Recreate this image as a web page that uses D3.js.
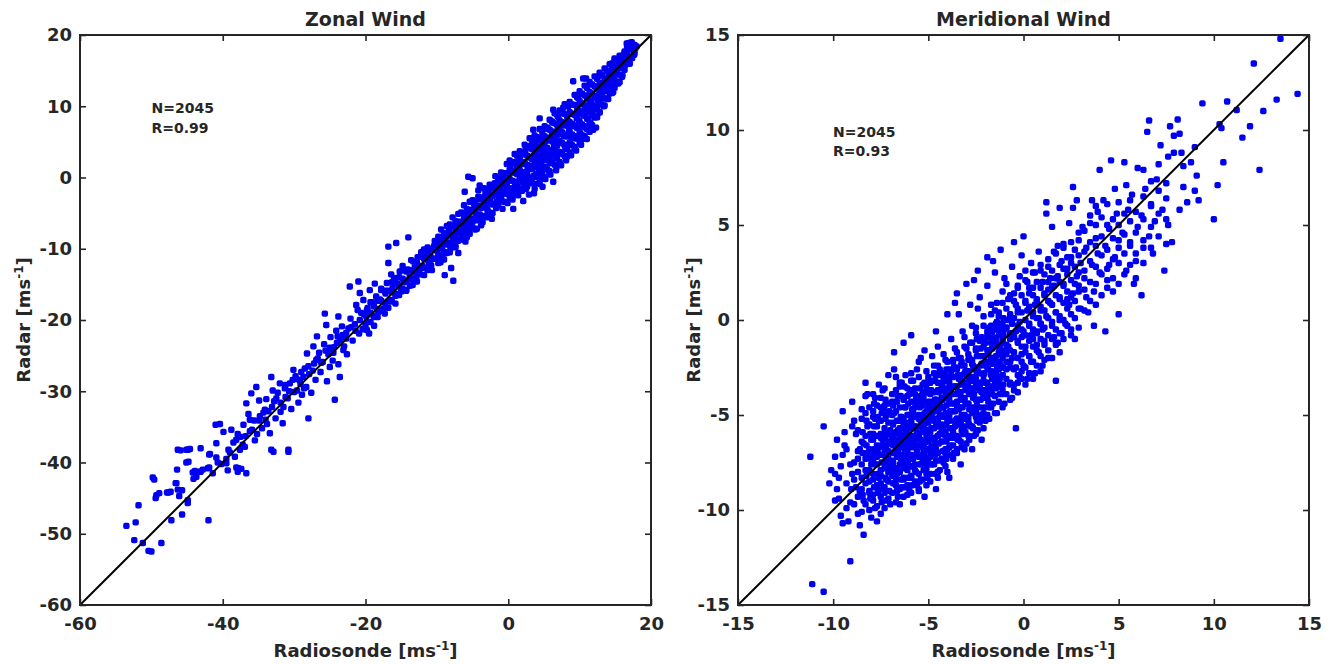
<!DOCTYPE html>
<html><head><meta charset="utf-8">
<script src="https://cdn.jsdelivr.net/npm/d3@7"></script>
<style>
body{margin:0;background:#fff}
text{font-family:"DejaVu Sans",sans-serif;font-weight:bold;fill:#262626}
</style>
</head><body>
<svg id="c" width="1335" height="664"></svg>
<script>
// Zonal wind: [radiosonde, radar] pairs (m/s)
const zonalPoints = [
[-53.5,-48.9],[-52.2,-48.4],[-52.4,-50.9],[-51.2,-51.3],[-50.4,-52.4],[-50.0,-52.5],[-51.8,-46.0],[-49.8,-42.1],[-49.6,-42.4],[-48.6,-51.3],
[-49.4,-45.0],[-48.9,-44.3],[-47.6,-44.2],[-47.3,-44.1],[-47.2,-48.1],[-46.6,-42.9],[-46.1,-44.7],[-45.7,-43.9],[-45.7,-47.3],[-46.4,-41.0],
[-45.1,-40.0],[-44.9,-45.3],[-44.9,-45.7],[-44.2,-41.4],[-44.1,-42.3],[-43.7,-42.0],[-43.2,-41.3],[-42.8,-41.0],[-42.0,-48.1],[-41.9,-40.7],
[-41.9,-38.9],[-41.4,-41.5],[-40.9,-39.3],[-40.7,-40.0],[-40.2,-40.2],[-39.5,-39.5],[-39.3,-41.1],[-38.1,-40.7],[-37.9,-41.3],[-37.4,-40.9],
[-36.7,-41.5],[-32.9,-38.5],[-30.8,-38.5],[-45.9,-38.3],[-44.9,-38.2],[-49.3,-44.6],[-47.8,-44.2],[-46.5,-42.9],[-46.3,-43.8],[-46.3,-38.2],
[-45.1,-38.2],[-44.6,-38.1],[-44.8,-39.9],[-43.9,-41.2],[-43.1,-41.3],[-43.1,-38.0],[-42.1,-40.8],[-41.8,-38.8],[-40.9,-37.3],[-41.0,-34.7],
[-40.4,-34.6],[-39.9,-35.7],[-39.5,-40.1],[-39.2,-38.2],[-38.8,-35.4],[-38.1,-36.8],[-37.6,-38.2],[-37.1,-34.7],[-37.8,-40.8],[-36.2,-34.0],
[-35.9,-35.4],[-36.7,-31.7],[-36.0,-30.3],[-35.3,-29.4],[-34.9,-31.3],[-34.1,-32.6],[-33.9,-31.1],[-33.2,-38.2],[-33.2,-28.0],[-33.0,-29.9],
[-32.0,-28.9],[-31.5,-32.2],[-31.2,-30.8],[-30.8,-38.2],[-30.1,-27.0],[-29.6,-29.9],[-29.1,-29.0],[-28.7,-28.0],[-28.0,-33.8],[-28.2,-24.7],
[-27.3,-23.7],[-26.7,-25.4],[-26.8,-22.3],[-25.7,-19.1],[-25.5,-20.7],[-25.0,-26.6],[-24.3,-31.2],[-23.6,-28.0],[-23.8,-19.5],[-22.7,-21.8],
[-22.2,-15.3],[-21.0,-14.6],[-20.8,-16.2],[-21.1,-18.6],[-20.4,-21.3],[-19.4,-15.8],[-18.7,-14.9],[-19.9,-19.5],[-24.0,-23.2],[-23.1,-24.2],
[-38.5,-37.2],[-37.9,-36.0],[-37.2,-37.5],[-36.8,-36.3],[-36.4,-33.2],[-35.6,-34.1],[-35.2,-36.0],[-34.8,-33.5],[-34.5,-35.2],[-34.0,-34.0],
[-33.6,-32.8],[-33.4,-35.9],[-32.8,-31.4],[-32.6,-33.8],[-32.3,-30.2],[-31.9,-31.6],[-31.6,-34.5],[-31.3,-29.6],[-30.9,-31.0],[-30.6,-28.9],
[-30.4,-32.5],[-30.0,-30.1],[-29.8,-27.9],[-29.4,-31.6],[-29.2,-28.5],[-28.9,-30.5],[-28.5,-26.8],[-28.3,-29.4],[-27.9,-27.6],[-27.6,-30.2],
[-27.2,-26.1],[-27.0,-28.4],[-26.5,-24.6],[-26.3,-27.3],[-26.0,-25.9],[-25.8,-23.4],[-25.4,-28.6],[-25.2,-24.8],[-24.9,-22.4],[-24.6,-25.7],
[-24.4,-23.8],[-24.1,-21.5],[-23.8,-26.2],[-23.5,-22.9],[-23.3,-20.9],[-23.0,-23.7],[-22.6,-24.8],[-22.4,-21.2],[-22.1,-19.8],[-21.8,-22.9],
[-21.5,-20.6],[-21.3,-17.9],[-20.9,-21.9],[-20.6,-19.0],[-20.3,-17.2],[-20.0,-20.8],[-19.7,-18.3],[-19.5,-21.9],[-19.1,-17.5],[-18.9,-19.4],
[-18.5,-16.7],[-18.2,-18.9],[-18.0,-17.1],[-17.8,-15.6],[-17.5,-18.4],[-17.2,-16.3],[-17.0,-14.8],[-16.8,-9.7],[-16.8,-12.0],[-16.4,-13.6],
[-16.5,-17.2],[-16.2,-15.5],[-16.0,-14.1],[-15.7,-9.2],[-15.8,-16.6],[-15.5,-14.9],[-15.2,-13.2],[-15.0,-16.0],[-14.8,-12.4],[-14.6,-14.7],
[-14.3,-15.8],[-14.0,-8.4],[-14.1,-12.9],[-13.8,-13.9],[-13.6,-11.6],[-13.4,-15.1],[-13.1,-12.6],[-12.9,-14.0],[-12.7,-11.2],[-12.5,-13.1],
[-12.2,-10.5],[-12.0,-12.4],[-11.8,-13.7],[-11.6,-11.0],[-11.3,-9.8],[-11.1,-12.1],[-10.9,-11.0],[-10.7,-13.0],[-10.4,-9.6],[-10.2,-11.4],
[-10.0,-10.3],[-9.7,-8.7],[-9.5,-11.9],[-9.3,-9.9],[-9.0,-8.3],[-8.9,-13.7],[-8.8,-10.6],[-8.5,-9.1],[-8.3,-7.4],[-8.0,-12.7],
[-7.7,-14.5],[-8.1,-10.0],[-7.8,-8.4],[-7.6,-6.9],[-7.4,-9.6],[-7.2,-7.8],[-7.0,-10.6],[-6.8,-6.5],[-6.6,-8.6],[-6.4,-7.3],
[-6.2,-5.8],[-6.1,-2.0],[-6.0,-9.0],[-5.8,-6.7],[-5.6,0.1],[-5.6,-5.2],[-5.4,-7.9],[-5.2,-4.6],[-5.0,-0.1],[-5.0,-6.2],
[-4.8,-3.7],[-4.6,-5.6],[-4.4,-7.2],[-4.2,-4.1],[-4.0,-1.1],[-4.0,-5.2],[-3.8,-3.0],[-3.6,-6.3],[-3.4,-3.8],[-3.2,-2.1],
[-3.1,-5.4],[-2.9,-4.6],[-2.7,-1.6],[-2.5,-3.3],[-2.3,-5.8],[-2.1,-2.5],[-1.9,-0.8],[-1.7,-4.3],[-1.6,-3.4],[-1.4,-1.6],
[-1.2,-0.2],[-1.0,-2.8],[-0.8,-4.4],[-0.6,-1.1],[-0.4,0.6],[-0.3,-2.3],[-0.1,-3.6],[0.1,-0.4],[0.3,1.4],[0.4,-1.8],
[0.6,-3.1],[0.7,-4.4],[0.8,0.7],[1.0,2.2],[1.1,-0.9],[1.3,-2.4],[1.4,-2.5],[1.5,1.4],[1.7,3.0],[1.8,0.2],
[2.0,-1.5],[2.1,-3.3],[2.3,2.1],[2.4,3.8],[2.6,0.9],[2.7,-0.6],[2.9,-2.4],[3.0,2.9],[3.2,4.5],[3.3,1.6],
[3.5,6.7],[3.5,0.2],[3.7,-1.6],[3.8,3.7],[4.0,5.2],[4.1,2.3],[4.3,0.9],[4.4,8.3],[4.4,-0.9],[4.6,4.4],
[4.7,0.35],[4.8,6.0],[4.9,2.9],[5.1,1.4],[5.2,-0.2],[5.3,5.1],[5.5,7.0],[5.6,3.6],[5.8,2.0],[5.9,0.4],
[6.1,5.9],[6.2,7.7],[6.3,9.5],[6.3,-0.6],[6.4,4.3],[6.6,2.7],[6.7,1.0],[6.9,6.6],[7.0,8.5],[7.1,5.0],
[7.3,3.4],[7.4,1.7],[7.6,7.3],[7.7,9.8],[7.8,5.8],[8.0,4.0],[8.1,2.4],[8.3,8.1],[8.4,10.0],[8.5,6.5],
[8.7,4.8],[8.8,3.1],[9.0,8.9],[9.1,13.5],[9.2,7.2],[9.4,5.5],[9.5,3.8],[9.7,9.6],[9.8,11.2],[9.9,8.0],
[10.1,6.2],[10.2,4.6],[10.4,10.4],[10.5,13.9],[10.6,8.7],[10.8,7.0],[10.9,13.9],[11.0,5.4],[11.1,11.1],[11.3,9.4],
[11.4,6.4],[11.5,7.7],[11.7,11.8],[11.9,6.7],[11.9,10.1],[12.1,8.4],[12.3,7.0],[12.4,12.5],[12.6,10.8],[12.8,14.3],
[12.8,9.1],[13.0,11.6],[13.2,13.2],[13.4,10.0],[13.6,12.3],[13.8,14.0],[14.0,11.0],[14.2,12.6],[14.4,13.9],[14.5,16.0],
[14.7,12.0],[14.9,16.7],[15.0,14.5],[15.2,15.3],[15.4,13.2],[15.6,15.6],[15.8,16.8],[16.0,14.4],[16.2,17.3],[16.4,15.8],
[16.6,18.8],[16.8,17.0],[17.0,16.0],[17.3,19.0],[17.4,18.0],[17.6,17.2],[17.8,18.1],[17.2,18.6],
[-9.9,-9.1],[-9.2,-10.8],[-8.6,-8.0],[-7.9,-9.2],[-7.1,-6.2],[-6.5,-7.9],[-5.9,-5.3],[-5.3,-6.8],[-4.7,-4.5],[-4.1,-6.0],
[-3.5,-2.8],[-2.9,-3.2],[-2.4,-1.4],[-1.8,-2.0],[-1.3,-3.2],[-0.7,-0.3],[-0.2,-1.3],[0.2,0.7],[0.5,-2.6],[0.9,-1.3],
[1.2,1.3],[1.6,-0.6],[2.2,0.0],[2.5,-1.6],[2.8,1.7],[3.1,-0.8],[3.4,2.6],[3.6,-2.2],[3.9,0.5],[4.2,3.1],
[4.5,1.7],[4.8,-1.3],[5.0,4.2],[5.4,2.5],[5.7,0.9],[6.0,3.2],[6.5,5.2],[6.8,3.6],[7.2,1.9],[7.5,6.1],
[7.9,4.6],[8.2,3.0],[8.6,7.2],[8.9,5.6],[9.3,4.1],[9.6,8.3],[10.0,7.0],[10.3,5.4],[10.7,9.6],[11.2,8.2],
[11.6,10.7],[12.0,9.5],[12.5,11.5],[12.9,12.4],[13.3,11.2],[13.7,13.2],[14.1,14.8],[14.6,14.4],[15.1,15.6],[15.5,16.4],
[16.1,16.3],[16.7,17.9],
[-39.0,-38.6],[-38.3,-39.2],[-37.5,-36.4],[-36.9,-37.8],[-36.2,-35.6],[-35.5,-36.9],[-34.9,-34.1],[-34.3,-33.0],[-33.8,-34.6],[-33.1,-32.2],
[-32.5,-31.0],[-31.9,-32.9],[-31.2,-29.1],[-30.7,-30.0],[-30.2,-28.4],[-29.6,-28.3],[-29.0,-27.3],[-28.6,-29.6],[-28.0,-26.5],[-27.4,-27.1],
[-26.9,-25.6],[-26.2,-26.0],[-25.6,-24.3],[-25.0,-23.9],[-24.5,-24.6],[-23.9,-22.3],[-23.2,-22.1],[-22.7,-22.6],[-22.0,-21.0],[-21.4,-21.5],
[-20.8,-20.0],[-20.2,-19.2],
[-19.8,-18.6],[-19.8,-20.2],[-19.8,-21.4],[-19.3,-19.0],[-19.3,-20.3],[-19.3,-17.5],[-18.8,-19.6],[-18.8,-18.1],[-18.8,-20.8],
[-18.3,-17.3],[-18.3,-18.5],[-18.3,-19.6],[-17.8,-17.3],[-17.8,-18.7],[-17.8,-15.8],[-17.3,-17.6],[-17.3,-15.9],[-17.3,-19.1],
[-16.8,-15.9],[-16.8,-17.4],[-16.8,-18.3],[-16.3,-16.1],[-16.3,-14.7],[-16.3,-17.4],[-15.8,-16.3],[-15.8,-14.8],[-15.8,-17.7],
[-15.3,-14.0],[-15.3,-15.3],[-15.3,-16.5],[-14.8,-14.2],[-14.8,-15.6],[-14.8,-12.9],[-14.3,-14.5],[-14.3,-13.2],[-14.3,-15.9],
[-13.8,-13.0],[-13.8,-14.3],[-13.8,-15.2],[-13.3,-13.2],[-13.3,-11.8],[-13.3,-14.3],[-12.8,-13.4],[-12.8,-11.9],[-12.8,-14.6],
[-12.3,-11.1],[-12.3,-12.4],[-12.3,-13.6],[-11.8,-11.4],[-11.8,-12.7],[-11.8,-10.1],[-11.3,-11.6],[-11.3,-10.3],[-11.3,-13.0],
[-10.8,-10.1],[-10.8,-11.4],[-10.8,-12.3],[-10.3,-10.1],[-10.3,-8.9],[-10.3,-11.4],
[-9.8,-8.3],[-9.8,-9.6],[-9.8,-10.9],[-9.8,-12.0],[-9.4,-8.6],[-9.4,-9.9],[-9.4,-11.1],[-9.4,-7.3],
[-9.0,-7.8],[-9.0,-9.1],[-9.0,-10.4],[-9.0,-11.5],[-8.6,-8.2],[-8.6,-9.4],[-8.6,-10.6],[-8.6,-6.8],
[-8.2,-6.6],[-8.2,-7.9],[-8.2,-9.2],[-8.2,-10.5],[-7.8,-6.9],[-7.8,-8.2],[-7.8,-9.4],[-7.8,-5.6],
[-7.4,-6.1],[-7.4,-7.3],[-7.4,-8.6],[-7.4,-9.8],[-7.0,-6.5],[-7.0,-7.7],[-7.0,-8.9],[-7.0,-5.1],
[-6.6,-4.9],[-6.6,-6.2],[-6.6,-7.5],[-6.6,-8.7],[-6.2,-5.2],[-6.2,-6.5],[-6.2,-7.7],[-6.2,-3.9],
[-5.8,-4.4],[-5.8,-5.8],[-5.8,-7.1],[-5.8,-8.4],[-5.4,-4.8],[-5.4,-6.0],[-5.4,-7.2],[-5.4,-3.4],
[-5.0,-3.2],[-5.0,-4.5],[-5.0,-5.8],[-5.0,-7.0],[-4.6,-3.5],[-4.6,-4.8],[-4.6,-6.0],[-4.6,-7.3],
[-4.2,-2.7],[-4.2,-4.0],[-4.2,-5.3],[-4.2,-1.8],[-3.8,-3.1],[-3.8,-4.3],[-3.8,-5.5],[-3.8,-6.7],
[-3.4,-1.5],[-3.4,-2.8],[-3.4,-4.1],[-3.4,-5.4],[-3.0,-1.8],[-3.0,-3.1],[-3.0,-4.3],[-3.0,-5.6],
[-2.6,-1.0],[-2.6,-2.3],[-2.6,-3.6],[-2.6,-4.9],[-2.2,-1.3],[-2.2,-2.6],[-2.2,-3.8],[-2.2,-5.0],
[-1.8,0.2],[-1.8,-1.1],[-1.8,-2.4],[-1.8,-3.7],[-1.4,-0.1],[-1.4,-1.4],[-1.4,-2.6],[-1.4,-3.9],
[-1.0,0.7],[-1.0,-0.6],[-1.0,-1.9],[-1.0,-3.2],[-0.6,0.4],[-0.6,-0.9],[-0.6,-2.1],[-0.6,-3.4],
[-0.2,1.9],[-0.2,0.6],[-0.2,-0.7],[-0.2,-2.0],
[0.2,2.4],[0.2,1.1],[0.2,-0.2],[0.2,-1.5],[0.2,-2.8],[0.55,2.15],[0.55,0.85],[0.55,-0.45],[0.55,-1.75],[0.55,-2.85],
[0.9,3.3],[0.9,2.0],[0.9,0.7],[0.9,-0.6],[0.9,-1.9],[1.25,3.05],[1.25,1.75],[1.25,0.45],[1.25,-0.85],[1.25,-2.25],
[1.6,3.7],[1.6,2.4],[1.6,1.1],[1.6,-0.3],[1.6,-1.6],[1.95,3.45],[1.95,2.15],[1.95,0.75],[1.95,-0.55],[1.95,-1.85],
[2.3,4.6],[2.3,3.3],[2.3,1.9],[2.3,0.6],[2.3,-0.8],[2.65,4.35],[2.65,3.05],[2.65,1.75],[2.65,0.35],[2.65,-1.25],
[3.0,5.5],[3.0,4.2],[3.0,2.8],[3.0,1.4],[3.0,-0.3],[3.35,5.25],[3.35,3.95],[3.35,2.55],[3.35,1.15],[3.35,-0.75],
[3.7,5.9],[3.7,4.6],[3.7,3.2],[3.7,1.8],[3.7,0.1],[3.7,-0.9],[4.05,5.65],[4.05,4.35],[4.05,2.95],[4.05,1.45],[4.05,0.05],
[4.4,6.8],[4.4,5.4],[4.4,4.0],[4.4,2.5],[4.4,1.0],[4.4,-0.4],[4.75,6.55],[4.75,5.25],[4.75,3.75],[4.75,2.35],[4.75,0.85],
[5.1,7.2],[5.1,5.8],[5.1,4.4],[5.1,3.0],[5.1,1.5],[5.1,0.1],[5.45,6.85],[5.45,5.55],[5.45,4.15],[5.45,2.65],[5.45,1.15],
[5.8,8.1],[5.8,6.7],[5.8,5.3],[5.8,3.8],[5.8,2.4],[5.8,0.9],[6.15,7.85],[6.15,6.45],[6.15,5.05],[6.15,3.55],[6.15,2.05],
[6.5,9.0],[6.5,7.6],[6.5,6.2],[6.5,4.7],[6.5,3.3],[6.5,1.8],[6.85,8.75],[6.85,7.35],[6.85,5.95],[6.85,4.45],[6.85,2.95],[6.85,1.65],
[7.2,9.4],[7.2,8.0],[7.2,6.6],[7.2,5.1],[7.2,3.6],[7.2,2.2],[7.55,9.05],[7.55,7.75],[7.55,6.35],[7.55,4.85],[7.55,3.35],
[7.9,10.3],[7.9,8.9],[7.9,7.5],[7.9,6.0],[7.9,4.5],[7.9,3.0],[8.25,10.05],[8.25,8.65],[8.25,7.25],[8.25,5.75],[8.25,4.25],[8.25,2.95],
[8.6,10.6],[8.6,9.2],[8.6,7.8],[8.6,6.4],[8.6,4.9],[8.6,3.5],[8.95,10.25],[8.95,8.95],[8.95,7.55],[8.95,6.05],[8.95,4.55],
[9.3,11.6],[9.3,10.2],[9.3,8.8],[9.3,7.3],[9.3,5.8],[9.3,4.3],[9.65,11.25],[9.65,9.85],[9.65,8.45],[9.65,6.95],[9.65,5.45],
[10.0,12.1],[10.0,10.7],[10.0,9.3],[10.0,7.8],[10.0,6.3],[10.0,4.9],[10.35,11.75],[10.35,10.35],[10.35,8.95],[10.35,7.45],[10.35,5.95],
[10.7,12.9],[10.7,11.5],[10.7,10.1],[10.7,8.7],[10.7,7.2],[10.7,5.8],[11.05,12.55],[11.05,11.15],[11.05,9.75],[11.05,8.25],[11.05,6.75],
[11.4,13.4],[11.4,12.0],[11.4,10.6],[11.4,9.1],[11.4,7.6],[11.75,13.05],[11.75,11.65],[11.75,10.25],[11.75,8.75],[11.75,7.35],
[12.1,14.2],[12.1,12.8],[12.1,11.4],[12.1,10.0],[12.1,8.6],[12.45,13.85],[12.45,12.45],[12.45,11.05],[12.45,9.65],[12.45,8.45],
[12.8,14.7],[12.8,13.3],[12.8,11.9],[12.8,10.5],[12.8,9.2],[13.15,14.35],[13.15,12.95],[13.15,11.55],[13.15,10.25],
[13.5,15.3],[13.5,13.9],[13.5,12.5],[13.5,11.1],[13.5,10.1],[13.85,14.95],[13.85,13.55],[13.85,12.15],[13.85,11.05],
[14.2,15.9],[14.2,14.5],[14.2,13.1],[14.2,11.8],[14.55,15.55],[14.55,14.15],[14.55,12.85],[14.55,11.85],
[14.9,16.5],[14.9,15.1],[14.9,13.7],[14.9,12.6],[15.25,16.15],[15.25,14.75],[15.25,13.45],
[15.6,17.1],[15.6,15.7],[15.6,14.4],[15.6,13.4],[15.95,16.75],[15.95,15.35],[15.95,14.15],
[16.3,17.7],[16.3,16.3],[16.3,15.1],[16.65,17.35],[16.65,15.95],[16.65,18.45],[17.0,18.3],[17.0,16.9],[17.0,16.0],
[17.35,17.95],[17.35,16.75],[17.7,18.6],[17.7,17.4],[18.0,18.4],[16.9,18.9]
];

// Meridional wind: [radiosonde, radar] pairs (m/s)
const meridionalPoints = [
[-11.2,-7.2],[-11.1,-13.9],[-10.5,-14.3],[-10.5,-5.6],[-10.2,-8.6],[-10.1,-7.9],
[-9.9,-7.2],[-9.8,-6.3],[-9.7,-9.4],[-9.6,-10.3],[-9.5,-10.7],[-9.5,-4.8],[-9.4,-5.9],[-9.3,-8.6],[-9.2,-10.6],[-9.1,-12.7],
[-9.0,-4.3],[-9.0,-8.1],[-9.6,-7.7],[-9.3,-6.8],[-9.8,-8.9],[-9.1,-9.6],[-9.05,-8.9],[-9.9,-8.1],
[-8.9,-7.5],[-8.8,-6.0],[-8.7,-10.2],[-8.6,-10.8],[-8.5,-8.3],[-8.4,-11.3],[-8.3,-3.3],[-8.3,-4.0],[-8.2,-7.0],[-8.1,-9.1],
[-8.0,-10.4],[-8.9,-5.3],[-8.8,-8.8],[-8.6,-6.8],[-8.5,-4.7],[-8.4,-9.5],[-8.3,-7.9],[-8.2,-5.6],[-8.1,-8.5],[-8.0,-6.3],
[-8.7,-7.3],[-8.6,-9.0],[-8.2,-3.9],[-8.4,-6.5],[-8.0,-7.6],[-8.9,-9.7],[-8.1,-4.6],
[-7.9,-8.1],[-7.9,-6.0],[-7.8,-9.9],[-7.8,-4.1],[-7.7,-7.2],[-7.7,-8.8],[-7.6,-5.3],[-7.6,-6.7],[-7.5,-10.2],[-7.5,-7.9],
[-7.4,-3.7],[-7.4,-6.3],[-7.3,-9.1],[-7.3,-7.5],[-7.2,-5.0],[-7.2,-8.4],[-7.1,-6.9],[-7.1,-2.9],[-7.0,-9.7],[-7.0,-7.7],
[-7.0,-5.8],[-7.9,-7.1],[-7.8,-5.2],[-7.6,-8.3],[-7.5,-6.0],[-7.4,-8.9],[-7.3,-4.5],[-7.2,-6.6],[-7.1,-8.0],[-7.9,-9.2],
[-7.7,-6.1],[-7.5,-4.6],[-7.3,-6.0],[-7.1,-7.3],[-7.6,-3.4],[-7.8,-7.6],[-7.4,-7.1],[-7.2,-9.5],[-7.0,-6.4],[-7.5,-8.6],
[-7.9,-4.8],[-7.7,-10.6],
[-6.9,-7.4],[-6.9,-5.4],[-6.8,-1.7],[-6.8,-2.6],[-6.8,-8.6],[-6.7,-6.5],[-6.7,-4.3],[-6.6,-7.9],[-6.6,-9.3],[-6.5,-9.7],
[-6.5,-6.0],[-6.5,-3.5],[-6.4,-7.1],[-6.4,-5.1],[-6.3,-8.3],[-6.3,-6.6],[-6.2,-4.6],[-6.2,-2.9],[-6.1,-7.6],[-6.1,-5.7],
[-6.0,-8.9],[-6.0,-6.2],[-6.0,-3.9],[-6.9,-6.3],[-6.8,-4.9],[-6.7,-7.0],[-6.6,-5.8],[-6.5,-8.0],[-6.4,-6.4],[-6.3,-4.2],
[-6.2,-7.3],[-6.1,-6.8],[-6.0,-5.0],[-6.9,-8.2],[-6.7,-3.0],[-6.5,-5.3],[-6.3,-7.7],[-6.2,-5.9],[-6.1,-4.0],[-6.0,-7.1],
[-6.8,-6.0],[-6.6,-4.0],[-6.4,-8.8],[-6.2,-6.3],[-6.6,-6.9],[-6.3,-5.5],[-6.9,-4.3],[-6.1,-9.2],[-6.4,-3.3],[-6.7,-8.4],
[-5.9,-2.8],[-5.9,-6.5],[-5.9,-8.2],[-5.8,-4.8],[-5.8,-7.3],[-5.7,-5.6],[-5.7,-3.6],[-5.6,-6.9],[-5.6,-8.7],[-5.5,-8.9],
[-5.5,-5.0],[-5.5,-2.2],[-5.4,-2.0],[-5.4,-6.3],[-5.4,-7.6],[-5.3,-4.2],[-5.3,-5.8],[-5.2,-7.0],[-5.2,-3.3],[-5.1,-6.1],
[-5.1,-8.1],[-5.0,-4.6],[-5.0,-5.4],[-5.0,-7.3],[-5.9,-5.4],[-5.8,-6.1],[-5.7,-7.9],[-5.6,-4.4],[-5.5,-6.6],[-5.4,-5.3],
[-5.3,-7.1],[-5.2,-4.9],[-5.1,-5.1],[-5.0,-6.4],[-5.8,-3.2],[-5.6,-5.9],[-5.4,-4.0],[-5.2,-6.5],[-5.1,-3.6],[-5.9,-7.7],
[-5.7,-6.3],[-5.5,-4.3],[-5.3,-6.7],[-5.1,-7.6],[-5.6,-2.6],[-5.4,-8.4],[-5.2,-5.5],[-5.0,-3.0],[-5.8,-5.0],[-5.3,-3.8],
[-4.9,-8.5],[-4.9,-5.9],[-4.9,-3.9],[-4.8,-4.9],[-4.8,-6.7],[-4.7,-2.4],[-4.7,-5.3],[-4.6,-7.4],[-4.6,-4.2],[-4.5,-6.1],
[-4.5,-1.4],[-4.4,-5.0],[-4.4,-7.9],[-4.3,-3.5],[-4.3,-6.4],[-4.2,-4.6],[-4.2,-5.7],[-4.1,-2.9],[-4.1,-7.0],[-4.0,-4.0],
[-4.0,-5.3],[-4.0,-6.8],[-4.9,-4.6],[-4.8,-3.2],[-4.7,-6.3],[-4.6,-5.6],[-4.5,-3.7],[-4.4,-4.4],[-4.3,-5.8],[-4.2,-7.5],
[-4.1,-4.9],[-4.0,-2.2],[-4.8,-7.6],[-4.6,-2.9],[-4.4,-6.0],[-4.2,-3.1],[-4.1,-6.1],[-4.7,-4.5],[-4.5,-5.2],[-4.3,-4.1],
[-4.9,-6.9],[-4.6,-6.8],[-4.2,-1.8],[-4.0,-8.0],[-4.4,-2.6],[-4.8,-1.9],[-4.1,-3.9],[-4.5,-8.3],
[-3.9,-5.0],[-3.9,-3.3],[-3.8,-6.2],[-3.8,-1.0],[-3.7,-4.4],[-3.7,-7.3],[-3.6,-2.5],[-3.6,-5.6],[-3.5,-3.9],[-3.5,1.4],
[-3.5,-6.8],[-3.4,-4.7],[-3.4,-2.0],[-3.3,-5.3],[-3.3,-3.4],[-3.2,-6.0],[-3.2,-0.6],[-3.1,-4.1],[-3.1,-2.8],[-3.0,-5.1],
[-3.0,-3.7],[-3.0,-1.5],[-3.9,-4.2],[-3.8,-2.7],[-3.7,-5.9],[-3.6,-3.5],[-3.5,-4.5],[-3.4,-6.3],[-3.3,-2.4],[-3.2,-4.6],
[-3.1,-5.6],[-3.0,-2.9],[-3.8,-3.9],[-3.6,-1.5],[-3.4,-3.1],[-3.2,-3.3],[-3.9,-6.7],[-3.7,-2.1],[-3.5,-5.2],[-3.3,-4.2],
[-3.1,-0.9],[-3.0,-6.5],[-3.6,-4.8],[-3.4,0.3],
[-2.9,-4.4],[-2.9,-2.1],[-2.8,-3.2],[-2.8,-5.6],[-2.7,-2.3],[-2.7,-0.3],[-2.6,-6.1],[-2.6,-3.9],[-2.6,2.1],[-2.5,-1.5],
[-2.5,-4.8],[-2.4,-2.7],[-2.4,0.6],[-2.3,-3.5],[-2.3,-5.2],[-2.2,-1.9],[-2.2,-0.9],[-2.1,-4.1],[-2.1,-2.9],[-2.0,-5.3],
[-2.0,-1.2],[-2.0,-3.3],[-2.9,-3.0],[-2.8,-1.2],[-2.7,-4.6],[-2.5,-3.1],[-2.4,-5.8],[-2.3,-1.1],[-2.2,-3.8],[-2.1,0.2],
[-2.0,-2.4],[-2.8,0.8],[-2.6,-2.6],[-2.4,-4.2],[-2.2,-2.3],[-2.9,-5.1],[-2.5,-0.4],[-2.1,-5.0],[-2.7,-3.6],[-2.3,1.2],
[-1.9,-3.8],[-1.9,1.8],[-1.8,-1.6],[-1.8,-4.6],[-1.7,-2.7],[-1.7,0.3],[-1.6,3.1],[-1.6,-4.4],[-1.6,-0.9],[-1.5,-3.3],
[-1.5,-2.0],[-1.4,0.9],[-1.4,-4.9],[-1.3,-1.3],[-1.3,-3.0],[-1.2,-0.2],[-1.2,-2.4],[-1.1,1.5],[-1.1,-3.9],[-1.0,-4.4],
[-1.0,-1.7],[-1.0,-0.5],[-1.9,-2.2],[-1.8,-0.4],[-1.7,-3.5],[-1.5,-1.1],[-1.4,-2.6],[-1.3,0.4],[-1.2,-3.4],[-1.1,-1.0],
[-1.0,2.2],[-1.8,-5.2],[-1.6,-2.3],[-1.4,-0.1],[-1.2,-1.8],[-1.9,-0.8],[-1.5,2.5],[-1.1,-2.9],
[-0.9,-2.6],[-0.9,-0.4],[-0.8,-1.4],[-0.8,1.1],[-0.7,-3.4],[-0.7,0.3],[-0.6,-2.0],[-0.6,2.8],[-0.5,-3.7],[-0.5,-0.9],
[-0.4,-5.7],[-0.4,0.8],[-0.4,-2.5],[-0.3,-1.2],[-0.3,1.7],[-0.2,-3.0],[-0.2,-0.1],[-0.1,-1.8],[-0.1,3.4],[0.0,4.4],
[0.0,-0.6],[0.0,-2.4],[-0.9,-1.8],[-0.8,0.0],[-0.7,-1.0],[-0.6,-4.1],[-0.5,1.4],[-0.4,-0.6],[-0.3,-3.3],[-0.2,2.3],
[-0.1,-0.9],[-0.9,1.9],[-0.6,-0.2],[-0.3,0.4],[-0.1,-2.7],[-0.7,-2.2],
[0.1,0.9],[0.1,-1.4],[0.2,-3.1],[0.2,2.0],[0.3,-0.3],[0.3,1.4],[0.4,-2.2],[0.4,3.0],[0.5,0.2],[0.5,-1.0],
[0.6,2.5],[0.6,-2.8],[0.7,-0.6],[0.7,1.1],[0.8,-1.7],[0.8,3.6],[0.9,0.5],[0.9,-0.2],[1.0,2.0],[1.0,-2.4],
[0.2,0.5],[0.4,-0.8],[0.5,1.7],[0.7,-1.3],[0.8,0.1],[0.9,2.6],[0.3,-1.9],[0.6,0.8],[1.0,-0.5],[0.1,2.6],
[1.1,1.3],[1.1,-1.1],[1.2,6.2],[1.2,5.6],[1.2,0.2],[1.3,2.8],[1.3,-2.0],[1.4,0.9],[1.5,4.9],[1.5,-0.3],
[1.6,1.8],[1.6,3.6],[1.7,-3.2],[1.7,0.4],[1.8,2.3],[1.8,-1.2],[1.9,5.9],[1.9,1.2],[2.0,3.1],[2.0,-0.7],
[1.4,2.2],[1.6,-0.9],[1.8,3.9],[1.3,1.6],[1.9,0.0],
[2.1,1.9],[2.1,4.0],[2.2,-0.2],[2.3,2.7],[2.4,0.8],[2.4,5.1],[2.5,3.3],[2.6,7.0],[2.6,5.9],[2.6,1.4],
[2.7,-1.0],[2.8,6.3],[2.8,2.3],[2.9,4.2],[3.0,0.6],[3.0,3.0],[2.3,1.1],[2.5,-0.5],[2.7,3.7],[2.9,1.8],
[3.1,4.9],[3.2,2.2],[3.3,3.8],[3.4,0.4],[3.5,5.5],[3.6,6.3],[3.6,2.9],[3.7,1.5],[3.8,4.3],[3.9,3.5],
[4.0,7.9],[4.0,2.5],[3.3,1.2],[3.7,-0.3],[3.9,5.7],
[4.2,6.3],[4.3,-0.6],[4.3,3.9],[4.4,2.1],[4.5,4.8],[4.6,8.4],[4.7,1.5],[4.8,6.9],[4.8,3.3],[4.9,5.6],
[5.0,0.3],[5.0,4.2],[4.5,2.9],
[5.2,4.6],[5.3,8.3],[5.4,2.6],[5.5,5.8],[5.6,3.9],[5.7,6.6],[5.8,1.9],[5.9,3.1],[6.0,8.0],[6.0,4.9],[5.4,7.1],
[6.2,1.3],[6.2,5.5],[6.3,3.8],[6.3,7.9],[6.5,9.9],[6.6,10.5],[6.6,4.4],[6.7,6.1],[6.8,3.5],[6.9,5.2],[7.0,7.4],[7.1,8.2],[6.4,6.9],
[7.2,9.2],[7.4,2.6],[7.5,6.4],[7.6,5.0],[7.6,8.6],[7.7,10.2],[7.9,9.7],[7.9,8.8],[7.8,4.1],[7.3,5.8],
[8.1,10.55],[8.2,9.8],[8.2,5.8],[8.3,8.8],[8.4,8.1],[8.6,6.2],[8.8,8.3],[9.0,9.1],[9.0,6.8],[9.1,7.6],[9.2,6.3],[9.4,11.4],[8.4,7.0],
[10.0,5.3],[10.2,7.1],[10.5,8.3],[10.4,10.1],[10.3,10.3],[10.7,11.5],[11.2,11.05],[11.5,9.6],[11.9,10.2],[12.4,7.9],[12.6,11.0],
[13.3,11.6],[14.4,11.9],[12.1,13.5],[13.5,14.8],
[-9.9,-9.5],[-9.7,-8.3],[-9.5,-7.1],[-9.3,-9.9],[-9.1,-7.6],[-8.9,-8.4],[-9.4,-6.6],[-9.0,-5.6],
[-5.8,-9.6],[-5.2,-9.3],[-4.6,-8.9],[-3.9,-8.3],[-3.3,-7.6],[-2.7,-6.8],[-2.2,-6.3],
[-8.7,-9.3],[-8.7,-8.0],[-8.7,-6.9],[-8.7,-5.8],
[-8.5,-10.1],[-8.5,-8.9],[-8.5,-7.6],[-8.5,-6.4],[-8.5,-5.2],
[-8.3,-9.7],[-8.3,-8.6],[-8.3,-7.3],[-8.3,-6.1],[-8.3,-4.9],
[-8.1,-10.0],[-8.1,-9.0],[-8.1,-7.9],[-8.1,-6.8],[-8.1,-5.5],
[-7.9,-9.5],[-7.9,-8.4],[-7.9,-7.4],[-7.9,-6.3],[-7.9,-5.1],[-7.9,-3.9],
[-7.7,-9.8],[-7.7,-8.7],[-7.7,-7.6],[-7.7,-6.6],[-7.7,-5.6],[-7.7,-4.5],
[-7.5,-9.3],[-7.5,-8.2],[-7.5,-7.1],[-7.5,-6.2],[-7.5,-5.3],[-7.5,-4.1],
[-7.3,-9.9],[-7.3,-8.8],[-7.3,-7.8],[-7.3,-6.8],[-7.3,-5.7],[-7.3,-4.8],[-7.3,-3.6],
[-7.1,-9.4],[-7.1,-8.5],[-7.1,-7.5],[-7.1,-6.5],[-7.1,-5.4],[-7.1,-4.4],
[-6.9,-9.1],[-6.9,-8.0],[-6.9,-7.0],[-6.9,-6.1],[-6.9,-5.0],[-6.9,-3.9],
[-6.7,-9.6],[-6.7,-8.7],[-6.7,-7.8],[-6.7,-6.8],[-6.7,-5.9],[-6.7,-4.8],[-6.7,-3.7],
[-6.5,-8.9],[-6.5,-7.6],[-6.5,-6.7],[-6.5,-5.7],[-6.5,-4.6],[-6.5,-3.3],
[-6.3,-9.3],[-6.3,-8.4],[-6.3,-7.4],[-6.3,-6.2],[-6.3,-5.2],[-6.3,-4.1],
[-6.1,-8.7],[-6.1,-7.9],[-6.1,-7.0],[-6.1,-6.0],[-6.1,-5.0],[-6.1,-3.6],
[-5.9,-9.1],[-5.9,-8.3],[-5.9,-7.1],[-5.9,-6.3],[-5.9,-5.3],[-5.9,-4.3],[-5.9,-3.2],
[-5.7,-8.5],[-5.7,-7.6],[-5.7,-6.6],[-5.7,-5.6],[-5.7,-4.6],[-5.7,-3.9],
[-5.5,-9.0],[-5.5,-8.1],[-5.5,-7.2],[-5.5,-6.1],[-5.5,-5.2],[-5.5,-4.1],[-5.5,-3.0],
[-5.3,-8.4],[-5.3,-7.4],[-5.3,-6.4],[-5.3,-5.5],[-5.3,-4.5],[-5.3,-3.4],
[-5.1,-8.7],[-5.1,-7.8],[-5.1,-6.8],[-5.1,-5.8],[-5.1,-4.8],[-5.1,-3.8],[-5.1,-2.7],
[-4.9,-8.1],[-4.9,-7.2],[-4.9,-6.2],[-4.9,-5.2],[-4.9,-4.3],[-4.9,-3.3],
[-4.7,-7.6],[-4.7,-6.6],[-4.7,-5.7],[-4.7,-4.8],[-4.7,-3.8],[-4.7,-2.8],
[-4.5,-8.0],[-4.5,-7.0],[-4.5,-6.1],[-4.5,-5.3],[-4.5,-4.3],[-4.5,-3.3],[-4.5,-2.4],
[-4.3,-7.3],[-4.3,-6.4],[-4.3,-5.5],[-4.3,-4.6],[-4.3,-3.7],[-4.3,-2.8],
[-4.1,-7.7],[-4.1,-6.8],[-4.1,-5.9],[-4.1,-5.0],[-4.1,-4.1],[-4.1,-3.2],[-4.1,-2.1],
[-3.9,-7.1],[-3.9,-6.1],[-3.9,-5.3],[-3.9,-4.4],[-3.9,-3.6],[-3.9,-2.6],
[-3.7,-6.6],[-3.7,-5.7],[-3.7,-4.8],[-3.7,-3.9],[-3.7,-3.0],[-3.7,-2.2],
[-3.5,-7.0],[-3.5,-6.1],[-3.5,-5.2],[-3.5,-4.3],[-3.5,-3.5],[-3.5,-2.6],[-3.5,-1.7],
[-3.3,-6.4],[-3.3,-5.5],[-3.3,-4.6],[-3.3,-3.8],[-3.3,-2.9],[-3.3,-2.0],
[-3.1,-6.8],[-3.1,-5.9],[-3.1,-5.0],[-3.1,-4.2],[-3.1,-3.3],[-3.1,-2.4],[-3.1,-1.4],
[-2.9,-6.1],[-2.9,-5.3],[-2.9,-4.4],[-2.9,-3.5],[-2.9,-2.7],[-2.9,-1.8],
[-2.7,-5.6],[-2.7,-4.8],[-2.7,-3.9],[-2.7,-3.0],[-2.7,-2.1],[-2.7,-1.2],
[-2.5,-6.0],[-2.5,-5.1],[-2.5,-4.2],[-2.5,-3.4],[-2.5,-2.5],[-2.5,-1.6],[-2.5,-0.7],
[-2.3,-5.4],[-2.3,-4.6],[-2.3,-3.7],[-2.3,-2.8],[-2.3,-1.9],[-2.3,-1.0],
[-2.1,-5.7],[-2.1,-4.9],[-2.1,-4.0],[-2.1,-3.2],[-2.1,-2.3],[-2.1,-1.4],[-2.1,-0.3],
[-1.9,-5.0],[-1.9,-4.1],[-1.9,-3.3],[-1.9,-2.5],[-1.9,-1.6],[-1.9,-0.6],
[-1.7,-4.6],[-1.7,-3.8],[-1.7,-2.9],[-1.7,-2.0],[-1.7,-1.2],[-1.7,-0.3],[-1.7,0.8],
[-1.5,-4.9],[-1.5,-4.0],[-1.5,-3.1],[-1.5,-2.3],[-1.5,-1.4],[-1.5,-0.5],[-1.5,0.5],
[-1.3,-4.3],[-1.3,-3.5],[-1.3,-2.6],[-1.3,-1.7],[-1.3,-0.8],[-1.3,0.2],
[-1.1,-4.6],[-1.1,-3.7],[-1.1,-2.9],[-1.1,-2.0],[-1.1,-1.2],[-1.1,-0.2],[-1.1,0.9],
[-0.9,-3.9],[-0.9,-3.1],[-0.9,-2.2],[-0.9,-1.3],[-0.9,-0.4],[-0.9,0.6],
[-0.7,-4.2],[-0.7,-3.3],[-0.7,-2.5],[-0.7,-1.6],[-0.7,-0.7],[-0.7,0.2],[-0.7,1.3],
[-0.5,-3.4],[-0.5,-2.6],[-0.5,-1.7],[-0.5,-0.9],[-0.5,0.1],[-0.5,1.0],
[-0.3,-3.8],[-0.3,-2.9],[-0.3,-2.0],[-0.3,-1.1],[-0.3,-0.3],[-0.3,0.6],[-0.3,1.8],
[-0.1,-3.1],[-0.1,-2.2],[-0.1,-1.4],[-0.1,-0.5],[-0.1,0.4],[-0.1,1.3],
[0.1,-3.4],[0.1,-2.5],[0.1,-1.7],[0.1,-0.8],[0.1,0.0],[0.1,1.0],[0.1,2.1],
[0.3,-2.8],[0.3,-1.9],[0.3,-1.1],[0.3,-0.2],[0.3,0.7],[0.3,1.7],
[0.5,-3.1],[0.5,-2.2],[0.5,-1.4],[0.5,-0.5],[0.5,0.4],[0.5,1.3],[0.5,2.5],
[0.7,-2.4],[0.7,-1.6],[0.7,-0.7],[0.7,0.1],[0.7,1.0],[0.7,2.0],
[0.9,-2.7],[0.9,-1.9],[0.9,-1.0],[0.9,-0.2],[0.9,0.7],[0.9,1.7],[0.9,2.9],
[1.1,-2.1],[1.1,-1.3],[1.1,-0.4],[1.1,0.5],[1.1,1.4],[1.1,2.4],
[1.3,-1.6],[1.3,-0.8],[1.3,0.1],[1.3,1.0],[1.3,2.0],[1.3,3.2],
[1.5,-2.0],[1.5,-1.0],[1.5,-0.1],[1.5,0.8],[1.5,1.7],[1.5,2.6],
[1.7,-1.3],[1.7,-0.5],[1.7,0.4],[1.7,1.3],[1.7,2.2],[1.7,3.5],
[1.9,-1.7],[1.9,-0.7],[1.9,0.2],[1.9,1.1],[1.9,2.0],[1.9,2.9],
[2.1,-1.0],[2.1,0.0],[2.1,0.9],[2.1,1.8],[2.1,2.7],[2.1,3.8],
[2.3,-0.3],[2.3,0.6],[2.3,1.5],[2.3,2.4],[2.3,3.3],
[2.5,-0.8],[2.5,0.3],[2.5,1.2],[2.5,2.1],[2.5,3.0],[2.5,4.1],
[2.7,0.1],[2.7,1.0],[2.7,1.9],[2.7,2.8],
[2.9,-0.4],[2.9,0.6],[2.9,1.5],[2.9,2.5],[2.9,3.4],[2.9,4.6],
[3.2,0.5],[3.2,1.6],[3.2,2.6],[3.2,3.6],[3.2,4.7],
[3.5,1.0],[3.5,2.0],[3.5,3.1],[3.5,4.1],[3.5,5.1],
[3.8,0.8],[3.8,1.9],[3.8,2.8],[3.8,3.9],[3.8,5.0],[3.8,6.0],
[4.1,1.3],[4.1,2.4],[4.1,3.4],[4.1,4.4],[4.1,5.4],
[4.4,1.7],[4.4,2.7],[4.4,3.7],[4.4,5.0],[4.4,6.1],
[4.7,2.2],[4.7,3.2],[4.7,4.3],[4.7,5.3],
[5.0,1.9],[5.0,3.0],[5.0,3.8],[5.0,5.0],[5.0,6.2],
[5.3,2.4],[5.3,3.5],[5.3,4.5],[5.3,5.6],
[5.6,2.9],[5.6,4.1],[5.6,5.2],[5.6,6.3],
[5.9,2.2],[5.9,3.5],[5.9,4.6],[5.9,5.7],
[6.3,3.0],[6.3,4.2],[6.3,5.3],[6.3,6.5],
[6.7,3.8],[6.7,4.9],[6.7,6.0],[6.7,7.3],
[7.1,4.4],[7.1,5.6],[7.1,6.8],[7.5,4.0],[7.5,5.3],[7.5,7.2],
[-8.45,-9.2],[-8.45,-7.0],[-8.45,-5.9],[-8.25,-8.2],[-8.25,-6.6],[-8.25,-5.3],[-8.05,-9.4],[-8.05,-7.3],[-8.05,-6.0],
[-7.85,-8.8],[-7.85,-6.8],[-7.85,-5.6],[-7.85,-4.4],[-7.65,-9.1],[-7.65,-8.1],[-7.65,-7.0],[-7.65,-5.1],
[-7.45,-9.6],[-7.45,-7.5],[-7.45,-6.6],[-7.45,-4.9],[-7.25,-8.3],[-7.25,-7.2],[-7.25,-6.2],[-7.25,-5.2],[-7.25,-4.2],
[-7.05,-9.0],[-7.05,-7.9],[-7.05,-6.0],[-7.05,-4.8],[-6.85,-8.6],[-6.85,-7.5],[-6.85,-6.6],[-6.85,-5.5],[-6.85,-4.5],
[-6.65,-9.0],[-6.65,-8.1],[-6.65,-7.2],[-6.65,-6.3],[-6.65,-5.3],[-6.65,-4.3],[-6.45,-8.4],[-6.45,-7.3],[-6.45,-6.2],[-6.45,-5.1],[-6.45,-4.0],
[-6.25,-8.8],[-6.25,-7.8],[-6.25,-6.8],[-6.25,-5.7],[-6.25,-4.6],[-6.25,-3.5],[-6.05,-8.3],[-6.05,-7.4],[-6.05,-6.5],[-6.05,-5.4],[-6.05,-4.4],
[-5.85,-8.7],[-5.85,-7.7],[-5.85,-6.7],[-5.85,-5.7],[-5.85,-4.7],[-5.85,-3.7],[-5.65,-8.0],[-5.65,-7.1],[-5.65,-6.1],[-5.65,-5.1],[-5.65,-4.2],
[-5.45,-8.5],[-5.45,-7.6],[-5.45,-6.6],[-5.45,-5.6],[-5.45,-4.6],[-5.45,-3.6],[-5.25,-7.9],[-5.25,-6.9],[-5.25,-5.9],[-5.25,-5.0],[-5.25,-4.0],
[-5.05,-8.3],[-5.05,-7.3],[-5.05,-6.3],[-5.05,-5.3],[-5.05,-4.3],[-5.05,-3.3],[-4.85,-7.6],[-4.85,-6.7],[-4.85,-5.7],[-4.85,-4.7],[-4.85,-3.7],
[-4.65,-8.1],[-4.65,-7.1],[-4.65,-6.2],[-4.65,-5.2],[-4.65,-4.2],[-4.65,-3.2],[-4.45,-7.4],[-4.45,-6.5],[-4.45,-5.6],[-4.45,-4.7],[-4.45,-3.8],[-4.45,-2.9],
[-4.25,-6.9],[-4.25,-6.0],[-4.25,-5.1],[-4.25,-4.2],[-4.25,-3.3],[-4.05,-7.3],[-4.05,-6.4],[-4.05,-5.5],[-4.05,-4.5],[-4.05,-3.6],[-4.05,-2.6],
[-3.85,-6.6],[-3.85,-5.7],[-3.85,-4.8],[-3.85,-3.9],[-3.85,-3.0],[-3.65,-7.0],[-3.65,-6.2],[-3.65,-5.3],[-3.65,-4.4],[-3.65,-3.5],[-3.65,-2.5],
[-3.45,-6.3],[-3.45,-5.5],[-3.45,-4.6],[-3.45,-3.8],[-3.45,-2.9],[-3.25,-6.7],[-3.25,-5.8],[-3.25,-5.0],[-3.25,-4.1],[-3.25,-3.2],[-3.25,-2.2],
[-3.05,-5.9],[-3.05,-5.2],[-3.05,-4.4],[-3.05,-3.6],[-3.05,-2.7],[-2.85,-6.3],[-2.85,-5.5],[-2.85,-4.7],[-2.85,-3.9],[-2.85,-3.0],[-2.85,-2.0],
[-2.65,-5.7],[-2.65,-4.9],[-2.65,-4.1],[-2.65,-3.2],[-2.65,-2.4],[-2.45,-5.3],[-2.45,-4.5],[-2.45,-3.6],[-2.45,-2.8],[-2.45,-1.9],[-2.45,-1.0],
[-2.25,-5.0],[-2.25,-4.2],[-2.25,-3.3],[-2.25,-2.4],[-2.25,-1.5],[-2.05,-4.6],[-2.05,-3.7],[-2.05,-2.8],[-2.05,-1.9],[-2.05,-1.1],
[-1.85,-4.3],[-1.85,-3.5],[-1.85,-2.6],[-1.85,-1.8],[-1.85,-0.9],[-1.65,-3.9],[-1.65,-3.1],[-1.65,-2.3],[-1.65,-1.5],[-1.65,-0.6],
[-1.45,-3.6],[-1.45,-2.8],[-1.45,-1.9],[-1.45,-1.0],[-1.45,-0.2],[-1.25,-3.9],[-1.25,-3.1],[-1.25,-2.2],[-1.25,-1.4],[-1.25,-0.5],
[-1.05,-3.4],[-1.05,-2.5],[-1.05,-1.6],[-1.05,-0.8],[-1.05,0.1],
[-6.3,-1.2],[-5.9,-0.8],[-5.2,-1.6],[-4.6,-0.6],[-4.0,0.3],[-3.6,0.9],[-3.0,1.9],[-2.4,2.6],[-1.9,3.3],[-1.2,3.7],[-0.5,4.1]
];

const zonalXTicks = [-60,-40,-20,0,20];
const zonalYTicks = [-60,-50,-40,-30,-20,-10,0,10,20];
const meridionalTicks = [-15,-10,-5,0,5,10,15];

const panels = [
  {title:"Zonal Wind", domain:[-60,20], xt:zonalXTicks, yt:zonalYTicks, pts:zonalPoints,
   left:80, right:651, stats:["N=2045","R=0.99"], sx:151.5, sy:112.5, sdy:20.5, ylx:30},
  {title:"Meridional Wind", domain:[-15,15], xt:meridionalTicks, yt:meridionalTicks, pts:meridionalPoints,
   left:738, right:1309, stats:["N=2045","R=0.93"], sx:833, sy:136.5, sdy:19, ylx:700}
];
const plotTop = 35, plotBottom = 605;
const svg = d3.select("#c");
const ink = "#262626";
const ms = 6.4;

panels.forEach(p => {
  const x = d3.scaleLinear().domain(p.domain).range([p.left, p.right]);
  const y = d3.scaleLinear().domain(p.domain).range([plotBottom, plotTop]);
  const g = svg.append("g");

  g.append("g").selectAll("rect").data(p.pts).enter().append("rect")
    .attr("x", d => x(d[0]) - ms / 2).attr("y", d => y(d[1]) - ms / 2)
    .attr("width", ms).attr("height", ms).attr("rx", 2)
    .attr("fill", "#0000f0");

  g.append("line")
    .attr("x1", x(p.domain[0])).attr("y1", y(p.domain[0]))
    .attr("x2", x(p.domain[1])).attr("y2", y(p.domain[1]))
    .attr("stroke", "#000").attr("stroke-width", 2);

  const styleAxis = sel => {
    sel.select(".domain").remove();
    sel.selectAll(".tick line").attr("stroke", ink).attr("stroke-width", 1.6);
    sel.selectAll(".tick text").attr("fill", ink)
      .style("font-family", "DejaVu Sans").style("font-weight", "bold").style("font-size", "18px");
  };
  const fmt = d => String(d);
  g.append("g").attr("transform", `translate(0,${plotBottom})`)
    .call(d3.axisBottom(x).tickValues(p.xt).tickSizeInner(-6).tickSizeOuter(0).tickPadding(12).tickFormat(fmt))
    .call(styleAxis);
  g.append("g").attr("transform", `translate(0,${plotTop})`)
    .call(d3.axisTop(x).tickValues(p.xt).tickSizeInner(-6).tickSizeOuter(0).tickFormat(""))
    .call(styleAxis);
  g.append("g").attr("transform", `translate(${p.left},0)`)
    .call(d3.axisLeft(y).tickValues(p.yt).tickSizeInner(-6).tickSizeOuter(0).tickPadding(8).tickFormat(fmt))
    .call(styleAxis);
  g.append("g").attr("transform", `translate(${p.right},0)`)
    .call(d3.axisRight(y).tickValues(p.yt).tickSizeInner(-6).tickSizeOuter(0).tickFormat(""))
    .call(styleAxis);

  g.append("rect").attr("x", p.left).attr("y", plotTop)
    .attr("width", p.right - p.left).attr("height", plotBottom - plotTop)
    .attr("fill", "none").attr("stroke", ink).attr("stroke-width", 2);

  g.append("text").attr("x", (p.left + p.right) / 2).attr("y", 26)
    .attr("text-anchor", "middle").style("font-size", "19px").text(p.title);

  const xl = g.append("text").attr("x", (p.left + p.right) / 2).attr("y", 657)
    .attr("text-anchor", "middle").style("font-size", "18px");
  xl.append("tspan").text("Radiosonde [ms");
  xl.append("tspan").attr("dy", -7).style("font-size", "12px").text("-1");
  xl.append("tspan").attr("dy", 7).text("]");

  const yl = g.append("text").attr("transform", `translate(${p.ylx},${(plotTop + plotBottom) / 2}) rotate(-90)`)
    .attr("text-anchor", "middle").style("font-size", "18px");
  yl.append("tspan").text("Radar [ms");
  yl.append("tspan").attr("dy", -7).style("font-size", "12px").text("-1");
  yl.append("tspan").attr("dy", 7).text("]");

  p.stats.forEach((s, i) => {
    g.append("text").attr("x", p.sx).attr("y", p.sy + i * p.sdy)
      .style("font-size", "14px").text(s);
  });
});
</script>
</body></html>
